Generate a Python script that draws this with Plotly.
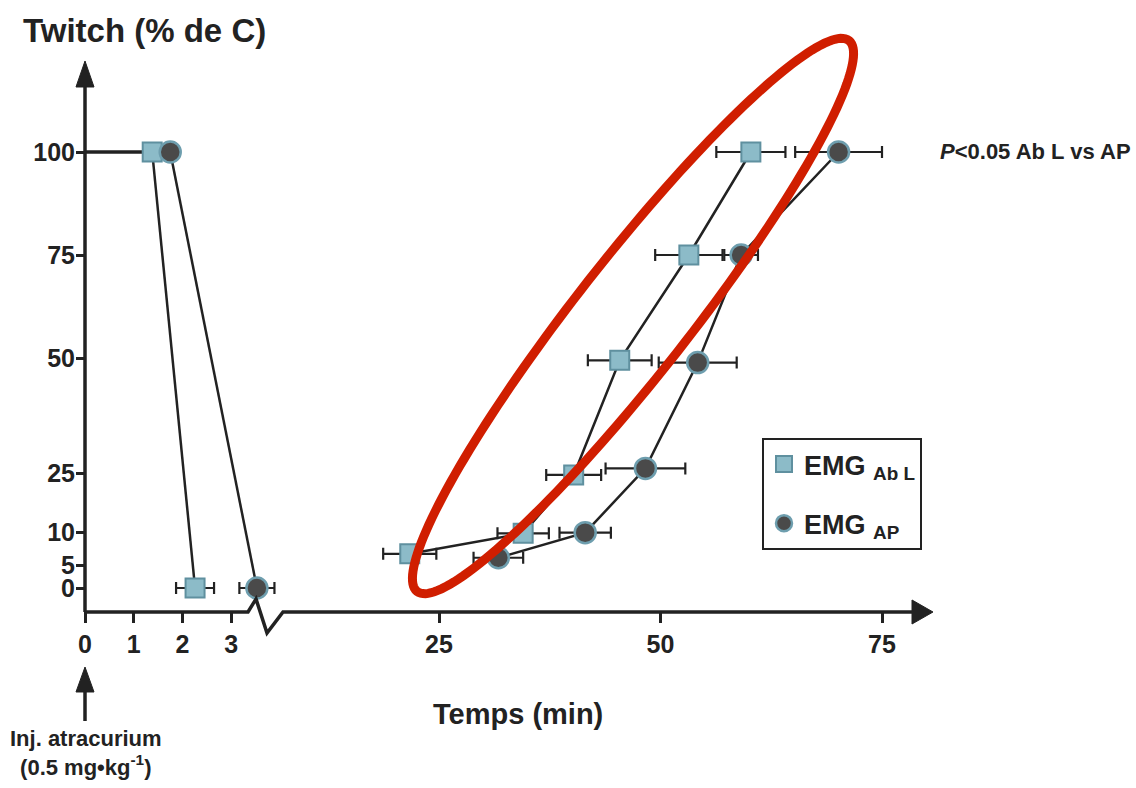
import numpy as np
import plotly.graph_objects as go

# Onset phase (left panel, minutes after injection) — twitch height in % of control
onset_t_abl = [1.38, 2.26]
onset_y_abl = [100, 0]
onset_err_abl = [0.0, 0.39]
onset_t_ap = [1.75, 3.53]
onset_y_ap = [100, 0]
onset_err_ap = [0.0, 0.36]

# Control level before injection
baseline_t = [0, 1.38]
baseline_y = [100, 100]

# Recovery phase (right panel)
recov_t_abl = [21.7, 34.5, 40.2, 45.4, 53.2, 60.2]
recov_y_abl = [6.7, 9.8, 24.5, 49.5, 75, 100]
recov_err_abl = [3.0, 2.9, 3.1, 3.6, 3.8, 3.9]
recov_t_ap = [31.7, 41.5, 48.3, 54.2, 59.1, 70.1]
recov_y_ap = [6.1, 9.9, 26, 49, 75, 100]
recov_err_ap = [2.8, 2.9, 4.5, 4.4, 1.9, 4.9]

# Axis labels
y_tick_vals = [0, 5, 10, 25, 50, 75, 100]
x_ticks_left = [0, 1, 2, 3]
x_ticks_right = [25, 50, 75]

# Stretched y scale: position of each tick value along the axis
Y_WARP = [0, 23, 56, 115, 230, 333, 436]


def warp(v):
    return np.interp(v, y_tick_vals, Y_WARP)


# Page and plot-area geometry (pixels)
W, H = 1136, 788
L, R, T, B = 85, 932, 62, 612
BREAK = 280
PW, PH = R - L, B - T
LEFT_SCALE = 48.7    # px per minute, onset panel
RIGHT_SCALE = 8.86   # px per minute, recovery panel
RIGHT_25 = 439       # px of the 25-min tick


def px(x, y):
    return (x - L) / PW, (B - y) / PH


def path(points, close=False):
    s = ""
    for i, (x, y) in enumerate(points):
        a, b = px(x, y)
        s += ("M" if i == 0 else "L") + f"{a:.5f},{b:.5f} "
    return s + ("Z" if close else "")


FONT = "Liberation Sans, Arial, Helvetica, sans-serif"
INK = "#222222"
SQ_FILL, SQ_EDGE = "#8CBBC8", "#5F909F"
CI_FILL, CI_EDGE = "#4A4A4A", "#6E9EAE"

sq_marker = dict(symbol="square", size=19, color=SQ_FILL, line=dict(color=SQ_EDGE, width=2))
ci_marker = dict(symbol="circle", size=21, color=CI_FILL, line=dict(color=CI_EDGE, width=2.5))
line_style = dict(color=INK, width=2.5)


def err(vals):
    return dict(type="data", array=vals, color=INK, thickness=2.2, width=6)


fig = go.Figure()

fig.add_trace(go.Scatter(x=baseline_t, y=warp(baseline_y), mode="lines",
                         line=dict(color=INK, width=3.5), showlegend=False,
                         xaxis="x", yaxis="y", hoverinfo="skip"))

fig.add_trace(go.Scatter(x=onset_t_abl, y=warp(onset_y_abl), mode="lines+markers",
                         line=line_style, marker=sq_marker, error_x=err(onset_err_abl),
                         showlegend=False, xaxis="x", yaxis="y"))
fig.add_trace(go.Scatter(x=onset_t_ap, y=warp(onset_y_ap), mode="lines+markers",
                         line=line_style, marker=ci_marker, error_x=err(onset_err_ap),
                         showlegend=False, xaxis="x", yaxis="y"))

fig.add_trace(go.Scatter(x=recov_t_abl, y=warp(recov_y_abl), mode="lines+markers",
                         line=line_style, marker=sq_marker, error_x=err(recov_err_abl),
                         showlegend=False, xaxis="x2", yaxis="y"))
fig.add_trace(go.Scatter(x=recov_t_ap, y=warp(recov_y_ap), mode="lines+markers",
                         line=line_style, marker=ci_marker, error_x=err(recov_err_ap),
                         showlegend=False, xaxis="x2", yaxis="y"))

# Legend entries (markers only)
fig.add_trace(go.Scatter(x=[None], y=[None], mode="markers", marker=sq_marker,
                         name="EMG <sub>Ab L</sub>", legendgroup="abl",
                         xaxis="x2", yaxis="y"))
fig.add_trace(go.Scatter(x=[None], y=[None], mode="markers", marker=ci_marker,
                         name="EMG <sub>AP</sub>", legendgroup="ap",
                         xaxis="x2", yaxis="y"))

split = (BREAK - L) / PW
tickfont = dict(family=FONT, size=25, color=INK, weight="bold")

fig.update_layout(
    width=W, height=H,
    margin=dict(l=L, r=W - R, t=T, b=H - B, pad=0),
    paper_bgcolor="white", plot_bgcolor="white",
    xaxis=dict(domain=[0, split], range=[0, (BREAK - L) / LEFT_SCALE],
               tickvals=x_ticks_left, ticktext=[str(v) for v in x_ticks_left],
               ticks="outside", ticklen=10, tickwidth=3, tickcolor=INK,
               showline=False, showgrid=False, zeroline=False, tickfont=tickfont),
    xaxis2=dict(domain=[split, 1],
                range=[25 - (RIGHT_25 - BREAK) / RIGHT_SCALE, 25 + (R - RIGHT_25) / RIGHT_SCALE],
                tickvals=x_ticks_right, ticktext=[str(v) for v in x_ticks_right],
                ticks="outside", ticklen=10, tickwidth=3, tickcolor=INK,
                showline=False, showgrid=False, zeroline=False, tickfont=tickfont,
                anchor="y"),
    yaxis=dict(range=[-(B - 588), (588 - T)],
               tickvals=warp(y_tick_vals), ticktext=[str(v) for v in y_tick_vals],
               ticks="outside", ticklen=8, tickwidth=3, tickcolor=INK,
               ticklabelstandoff=-4,
               showline=False, showgrid=False, zeroline=False, tickfont=tickfont),
    legend=dict(x=px(762, 0)[0], y=px(0, 438)[1], xanchor="left", yanchor="top",
                bordercolor=INK, borderwidth=2, bgcolor="white",
                font=dict(family=FONT, size=27, color=INK, weight="bold"),
                itemwidth=30, tracegroupgap=21),
    showlegend=True,
)

shapes = []
# y axis with arrow head
shapes.append(dict(type="path", path=path([(85, 612), (85, 84)]),
                   xref="paper", yref="paper", line=dict(color=INK, width=3.5)))
shapes.append(dict(type="path", path=path([(85, 61), (76, 87), (94, 87)], close=True),
                   xref="paper", yref="paper", fillcolor=INK, line=dict(color=INK, width=1)))
# broken x axis with arrow head
shapes.append(dict(type="path",
                   path=path([(84, 612), (248, 612), (256, 599), (267, 633), (283, 612), (915, 612)]),
                   xref="paper", yref="paper", line=dict(color=INK, width=3.5)))
shapes.append(dict(type="path", path=path([(933, 612), (912, 600), (912, 624)], close=True),
                   xref="paper", yref="paper", fillcolor=INK, line=dict(color=INK, width=1)))
# injection marker arrow
shapes.append(dict(type="path", path=path([(85, 721), (85, 690)]),
                   xref="paper", yref="paper", line=dict(color=INK, width=3.5)))
shapes.append(dict(type="path", path=path([(85, 667), (76, 692), (94, 692)], close=True),
                   xref="paper", yref="paper", fillcolor=INK, line=dict(color=INK, width=1)))

# highlight ellipse around the recovery curves
cx, cy, a, b, ang = 633, 316, 350, 57, np.deg2rad(51.9)
th = np.linspace(0, 2 * np.pi, 181)
ex = cx + a * np.cos(th) * np.cos(ang) + b * np.sin(th) * np.sin(ang)
ey = cy - a * np.cos(th) * np.sin(ang) + b * np.sin(th) * np.cos(ang)
shapes.append(dict(type="path", path=path(list(zip(ex, ey)), close=True),
                   xref="paper", yref="paper", line=dict(color="#D01E00", width=9),
                   layer="above"))
fig.update_layout(shapes=shapes)

ann_font = dict(family=FONT, color=INK, weight="bold")
anns = [
    dict(text="Twitch (% de C)", x=px(21, 0)[0], y=px(0, 31)[1], xanchor="left", yanchor="middle",
         font=dict(size=33, **ann_font)),
    dict(text="Temps (min)", x=px(518, 0)[0], y=px(0, 714)[1], xanchor="center", yanchor="middle",
         font=dict(size=29, **ann_font)),
    dict(text="<i>P</i>&lt;0.05 Ab L vs AP", x=px(1133, 0)[0], y=px(0, 151)[1],
         xanchor="right", yanchor="middle", font=dict(size=22, **ann_font)),
    dict(text="Inj. atracurium<br>(0.5 mg•kg<sup>-1</sup>)", x=px(86, 0)[0], y=px(0, 753)[1],
         xanchor="center", yanchor="middle", align="center", font=dict(size=22, **ann_font)),
]
for an in anns:
    an.update(xref="paper", yref="paper", showarrow=False)
fig.update_layout(annotations=anns)

fig.write_html("out.html")
